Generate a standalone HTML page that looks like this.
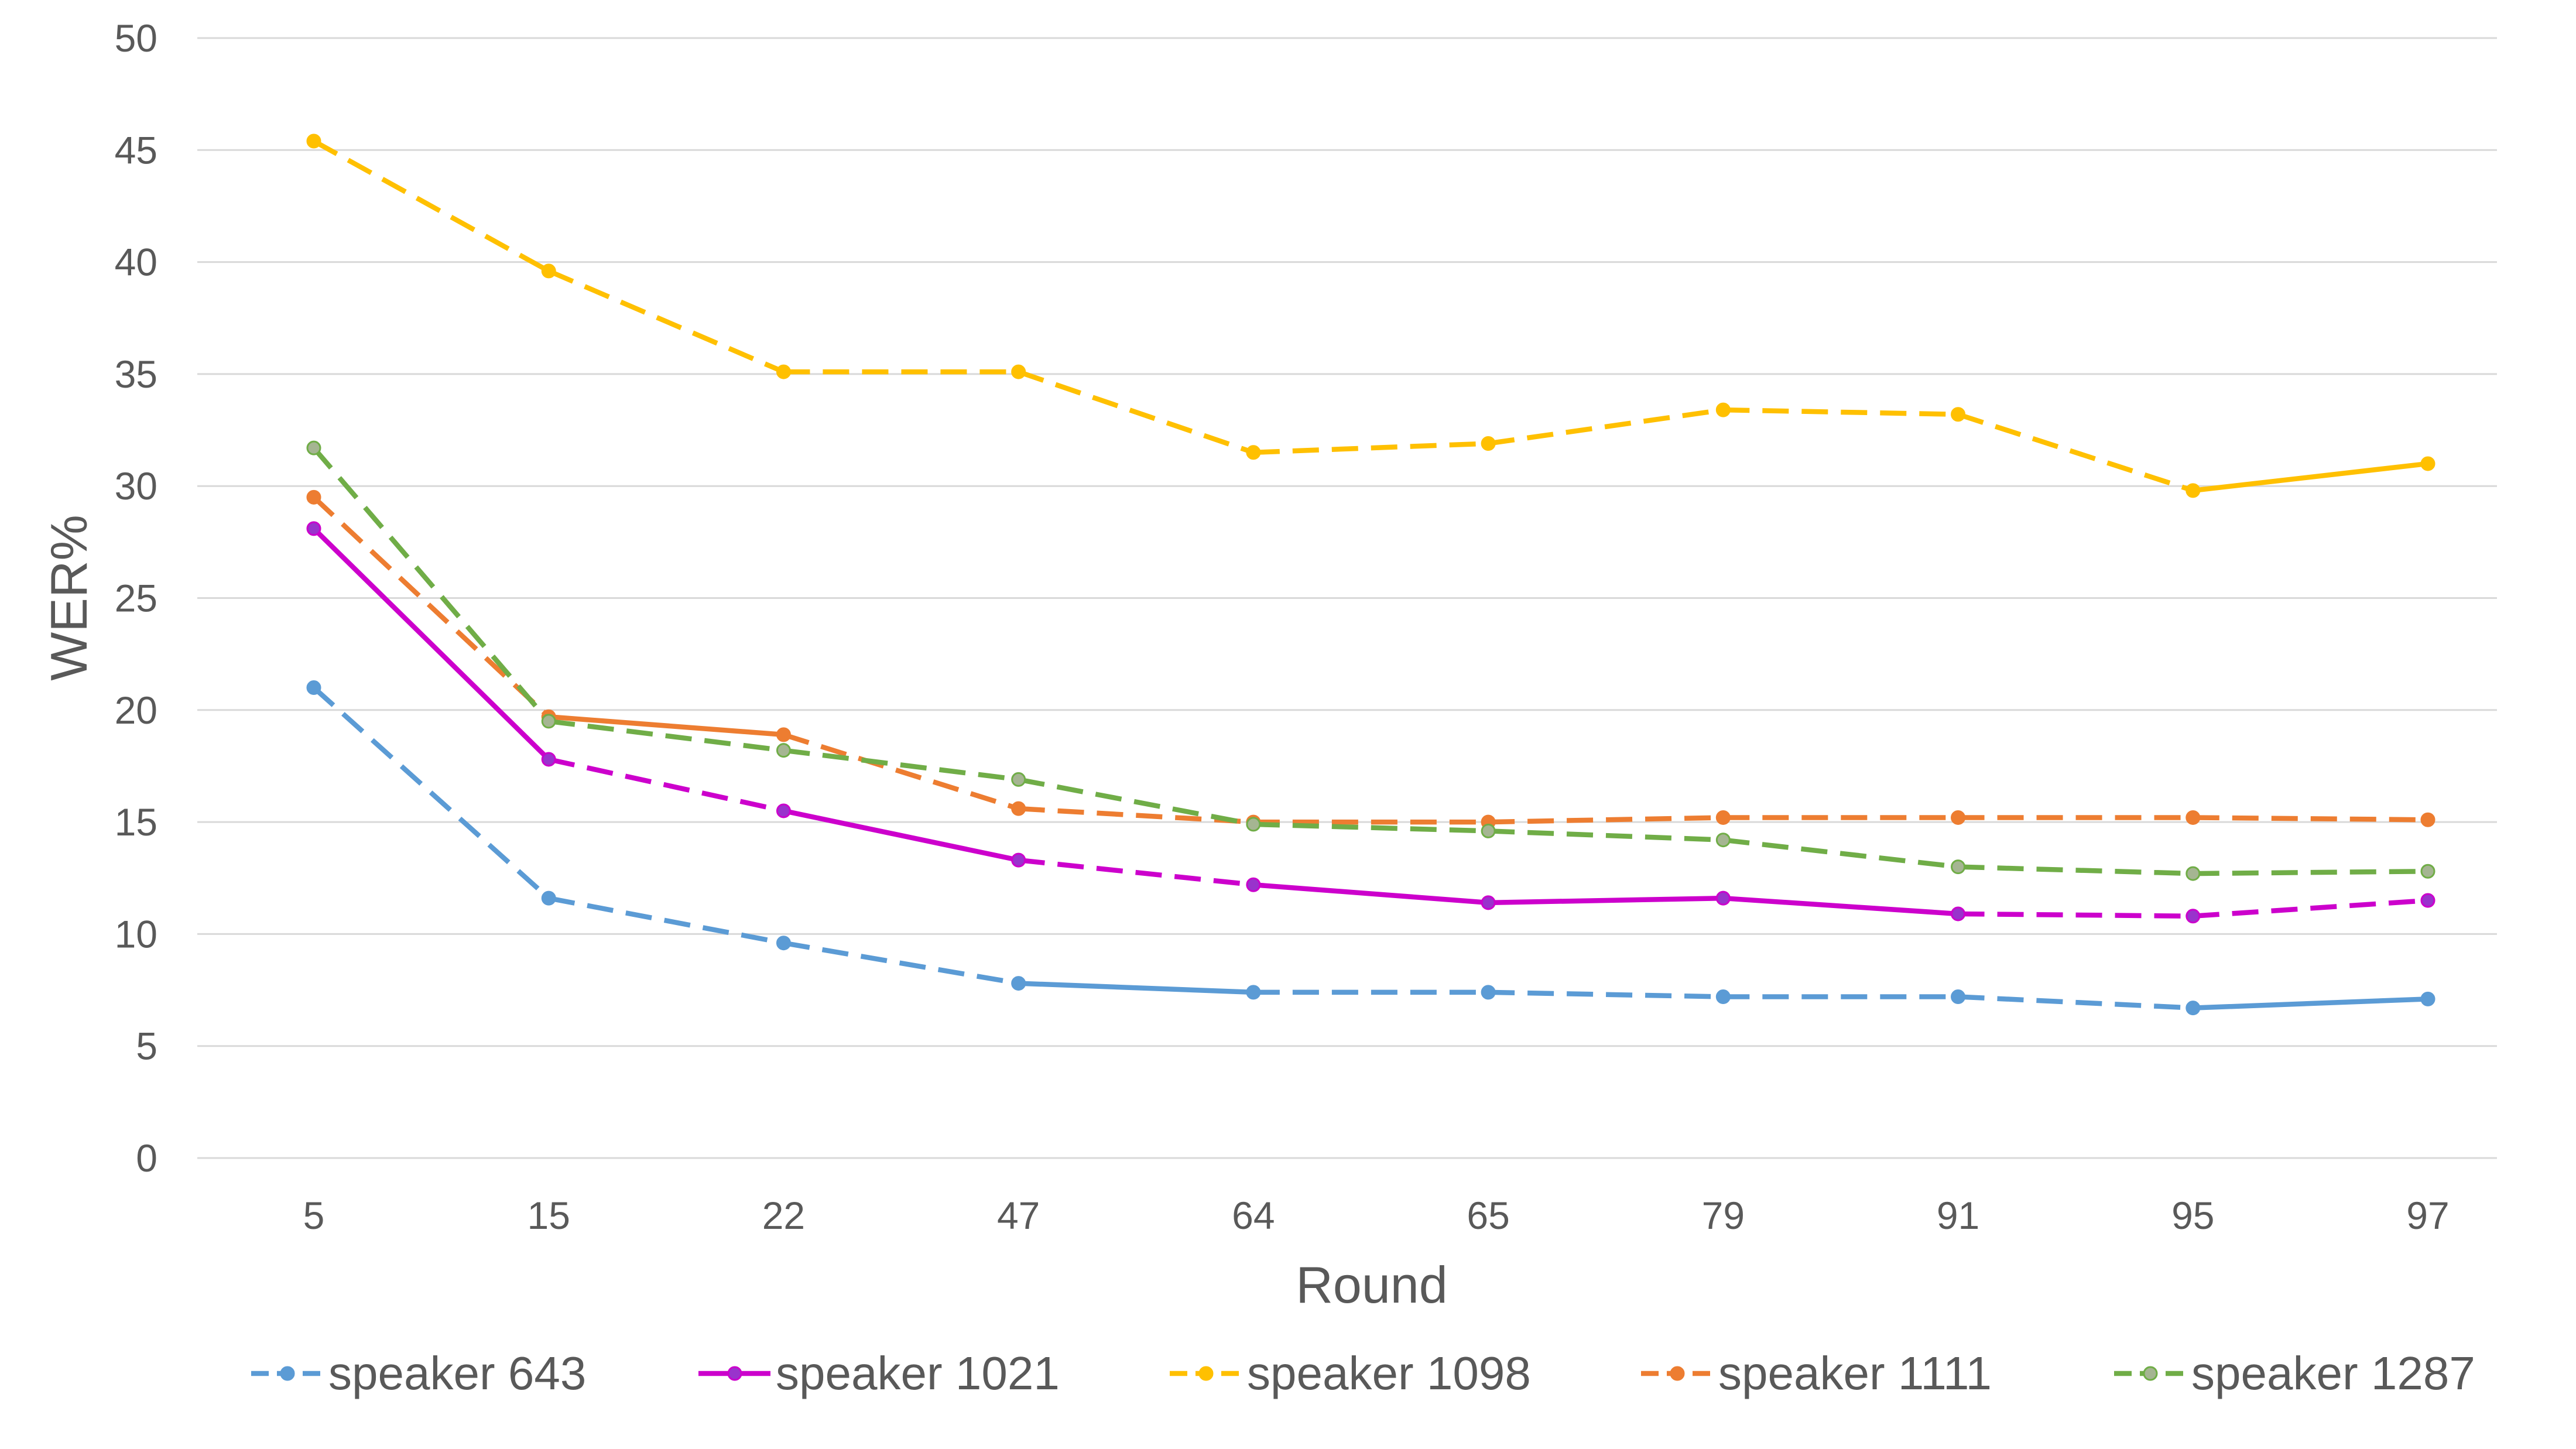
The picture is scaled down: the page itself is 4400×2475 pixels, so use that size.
<!DOCTYPE html>
<html><head><meta charset="utf-8"><style>
html,body{margin:0;padding:0;background:#fff;}
svg{display:block;font-family:"Liberation Sans",sans-serif;}
</style></head><body>
<svg id="chart" width="4400" height="2475" viewBox="0 0 4400 2475" xmlns="http://www.w3.org/2000/svg">
<rect width="4400" height="2475" fill="#fff"/>
<g id="grid"></g><g id="series"></g><g id="labels"></g><g id="legend"></g>
</svg>
<script>
const categories = ["5","15","22","47","64","65","79","91","95","97"];
const yTicks = [0,5,10,15,20,25,30,35,40,45,50];
const seriesNames = ["speaker 643","speaker 1021","speaker 1098","speaker 1111","speaker 1287"];
const s643 = [21,11.6,9.6,7.8,7.4,7.4,7.2,7.2,6.7,7.1];
const s1021 = [28.1,17.8,15.5,13.3,12.2,11.4,11.6,10.9,10.8,11.5];
const s1098 = [45.4,39.6,35.1,35.1,31.5,31.9,33.4,33.2,29.8,31.0];
const s1111 = [29.5,19.7,18.9,15.6,15.0,15.0,15.2,15.2,15.2,15.1];
const s1287 = [31.7,19.5,18.2,16.9,14.9,14.6,14.2,13.0,12.7,12.8];
// segment styles: 1 = solid, 0 = dashed
const seg643 = [0,0,0,1,0,0,0,0,1];
const seg1021 = [1,0,1,0,1,1,1,0,0];
const seg1098 = [0,0,0,0,0,0,0,0,1];
const seg1111 = [0,1,0,0,0,0,0,0,0];
const seg1287 = [0,0,0,0,0,0,0,0,0];

const NS="http://www.w3.org/2000/svg";
const plotL=337, plotR=4265, y0=1978, y50=65;
const xStart=536, xEnd=4147;
function xPos(i){return xStart+(xEnd-xStart)*i/(categories.length-1);}
function yPos(v){return y0-(y0-y50)*v/50;}
function mk(tag,attrs,parent){const e=document.createElementNS(NS,tag);for(const k in attrs)e.setAttribute(k,attrs[k]);parent.appendChild(e);return e;}
const grid=document.getElementById('grid'),sg=document.getElementById('series'),lg=document.getElementById('labels'),leg=document.getElementById('legend');
yTicks.forEach(t=>{
  const l=mk('line',{x1:plotL,x2:plotR,y1:yPos(t),y2:yPos(t),stroke:'#D9D9D9','stroke-width':3},grid);
  
  
  const tx=mk('text',{x:269,y:yPos(t)+23,'text-anchor':'end','font-size':66,fill:'#595959'},lg);
  tx.textContent=t;
  
  
});
categories.forEach((c,i)=>{
  const tx=mk('text',{x:xPos(i),y:2099,'text-anchor':'middle','font-size':66,fill:'#595959'},lg);
  tx.textContent=c;
  
  
});
const yt=mk('text',{x:0,y:0,transform:'translate(148,1021) rotate(-90)','text-anchor':'middle','font-size':88,fill:'#595959'},lg);
yt.textContent='WER%';


const xt=mk('text',{x:2343,y:2225,'text-anchor':'middle','font-size':88,fill:'#595959'},lg);
xt.textContent='Round';



const allData=[s643,s1021,s1098,s1111,s1287];
const allSeg=[seg643,seg1021,seg1098,seg1111,seg1287];
const colors=['#5B9BD5','#CC00CC','#FFC000','#ED7D31','#70AD47'];
const markerFill=['#5B9BD5','#9933CC','#FFC000','#ED7D31','#A5B592'];
const DASH='45 22';
allData.forEach((d,si)=>{
  const g=mk('g',{},sg);
  
  
  for(let i=0;i<d.length-1;i++){
    const a={x1:xPos(i),y1:yPos(d[i]),x2:xPos(i+1),y2:yPos(d[i+1]),stroke:colors[si],'stroke-width':8.5,'stroke-linecap':'round'};
    if(!allSeg[si][i]){a['stroke-dasharray']=DASH;a['stroke-linecap']='butt';}
    const l=mk('line',a,g);
    
    
  }
  d.forEach((v,i)=>{
    const c=mk('circle',{cx:xPos(i),cy:yPos(v),r:11,fill:markerFill[si],stroke:colors[si],'stroke-width':3},g);
    
    
  });
});
const legX=[429,1193,1998,2803,3611];
const legY=2346;
seriesNames.forEach((n,si)=>{
  const g=mk('g',{},leg);
  
  
  const a={x1:legX[si],x2:legX[si]+123,y1:legY,y2:legY,stroke:colors[si],'stroke-width':8.5};
  if(allSeg[si][0]===0 || si!==1) a['stroke-dasharray']='30 14';
  if(si===1) delete a['stroke-dasharray'];
  mk('line',a,g);
  mk('circle',{cx:legX[si]+62,cy:legY,r:11,fill:markerFill[si],stroke:colors[si],'stroke-width':3},g);
  const t=mk('text',{x:legX[si]+132,y:legY+27,'font-size':80,fill:'#595959'},g);
  t.textContent=n;
});
</script>
</body></html>
